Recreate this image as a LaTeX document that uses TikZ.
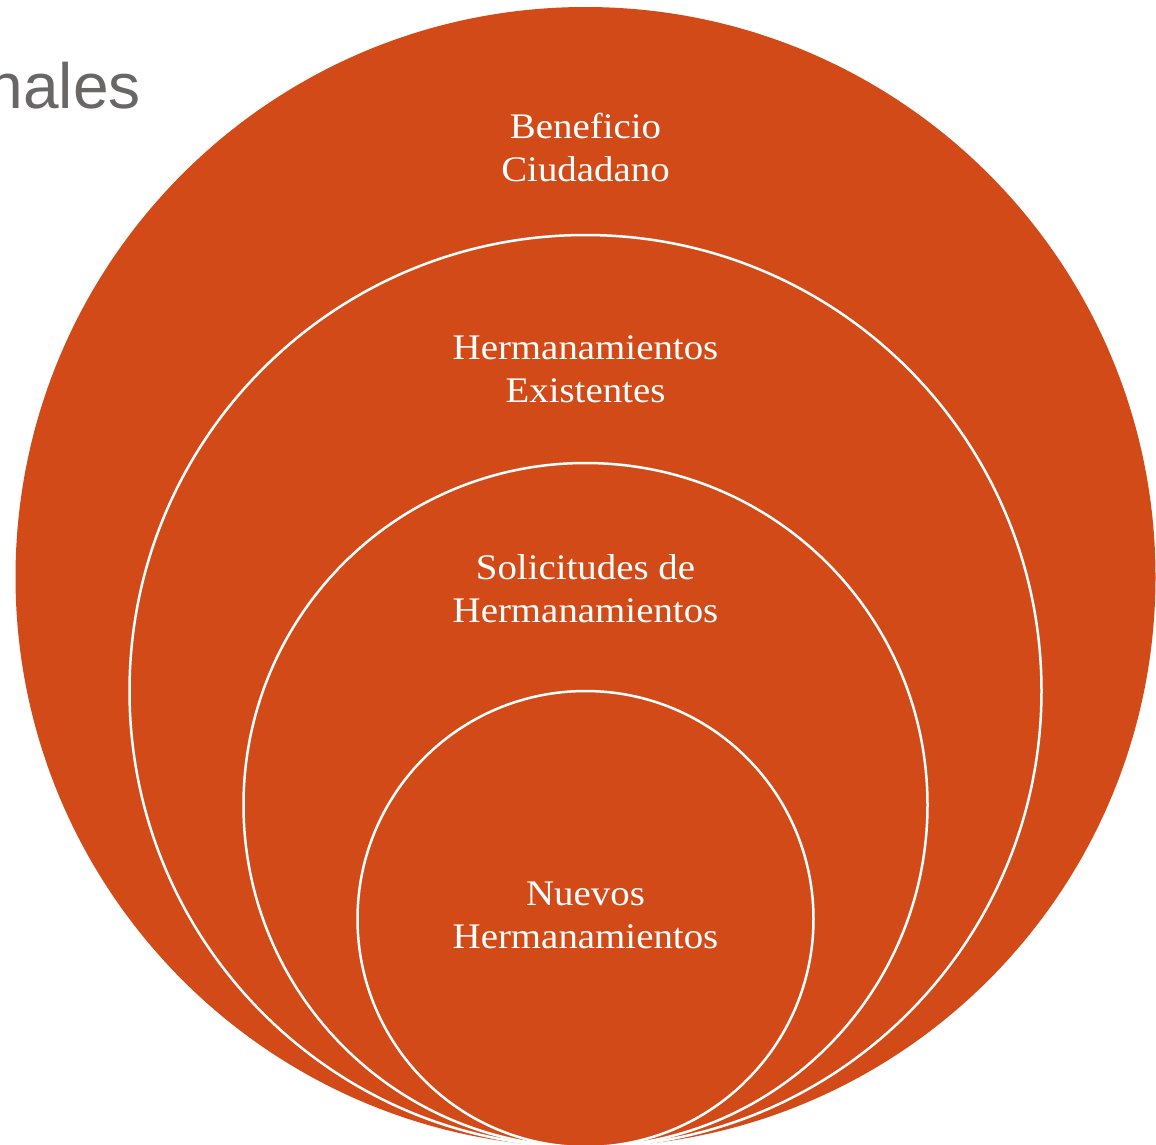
\documentclass[tikz,border=0pt]{standalone}
\usepackage{fontspec}
\setmainfont[FakeStretch=1.08]{Liberation Serif}
\newfontfamily\graysans{Liberation Sans}
\definecolor{ringfill}{RGB}{210,74,24}
\definecolor{titlegray}{RGB}{105,102,102}
\begin{document}
\begin{tikzpicture}[x=1pt,y=-1pt,
  ring/.style={circle, fill=ringfill, inner sep=0pt, outer sep=0pt},
  ringline/.style={ring, draw=white, line width=2.5pt},
  label/.style={text=white, align=center, inner sep=0pt,
    font=\fontsize{36}{43}\selectfont}]
\useasboundingbox (0,0) rectangle (1156,1144);
\clip (0,0) rectangle (1156,1144);
\node[ring, minimum size=1140pt] (c1) at (585.5,577) {};
\node[ringline, minimum size=912pt] (c2) at (585.5,691) {};
\node[ringline, minimum size=684pt] (c3) at (585.5,805) {};
\node[ringline, minimum size=456pt] (c4) at (585.5,919) {};
\node[label] (t1) at (585.5,147) {Beneficio\\Ciudadano};
\node[label] (t2) at (585.5,369) {Hermanamientos\\Existentes};
\node[label] (t3) at (585.5,589) {Solicitudes de\\Hermanamientos};
\node[label] (t4) at (585.5,915) {Nuevos\\Hermanamientos};
\node[anchor=base east, inner sep=0pt, text=titlegray,
  font=\graysans\fontsize{64}{70}\selectfont] (title) at (141,108) {nales};
\end{tikzpicture}
\end{document}
